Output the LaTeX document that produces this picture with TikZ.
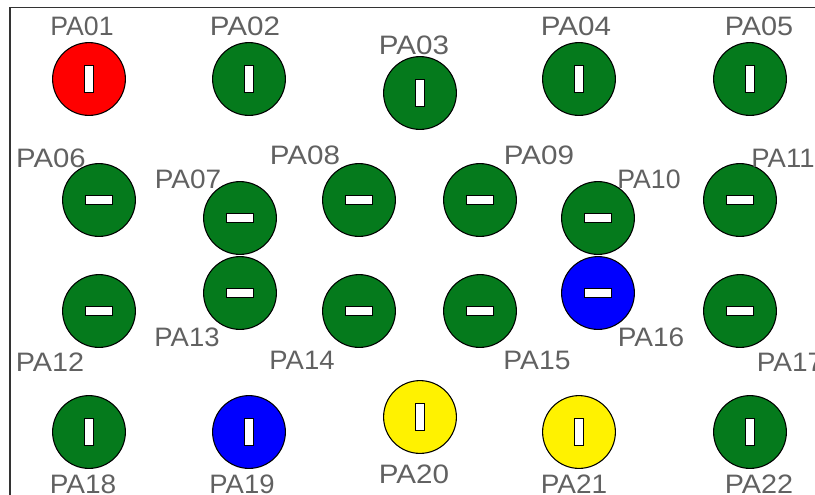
\documentclass[tikz,border=0pt]{standalone}
\usepackage{graphicx}
\usepackage{fontspec}
\setmainfont{Liberation Sans}
\definecolor{pgreen}{RGB}{5,122,28}
\begin{document}
\begin{tikzpicture}[x=0.75pt,y=-0.75pt,
  pad/.style={circle,draw=black,line width=0.8pt,minimum size=54.6pt,inner sep=0pt,outer sep=0pt},
  vslot/.style={rectangle,draw=black,fill=white,line width=0.7pt,minimum width=6.2pt,minimum height=20.5pt,inner sep=0pt},
  hslot/.style={rectangle,draw=black,fill=white,line width=0.7pt,minimum width=20.5pt,minimum height=6.2pt,inner sep=0pt},
  lab/.style={inner sep=0pt,text=black!62,font=\fontsize{20pt}{22pt}\selectfont}]
\useasboundingbox (0,0) rectangle (815,494);
\clip (0,0) rectangle (815,494);
\draw[line width=0.8pt,black!80] (10,495) -- (10,7.5) -- (816,7.5);
\foreach \n/\x/\y/\c/\s/\lx/\ly/\w in {
 01/89/79/red/vslot/82/26/1.0, 02/249/79/pgreen/vslot/245/26/1.11, 03/420/93/pgreen/vslot/414/45/1.11,
 04/579/79/pgreen/vslot/576/26/1.11, 05/750/79/pgreen/vslot/759/26/1.08,
 06/99/200/pgreen/hslot/51/158/1.1, 07/240/218/pgreen/hslot/188/179/1.05, 08/359/200/pgreen/hslot/305/155/1.11,
 09/480/200/pgreen/hslot/539/155/1.11, 10/598/218/pgreen/hslot/649/179/1.0, 11/740/200/pgreen/hslot/783/158/1.03,
 12/99/311/pgreen/hslot/50/362/1.08, 13/240/293/pgreen/hslot/187/337/1.03, 14/359/311/pgreen/hslot/302/360/1.03,
 15/480/311/pgreen/hslot/537/360/1.06, 16/598/293/blue/hslot/651/337/1.05, 17/740/311/pgreen/hslot/790/362/1.05,
 18/89/432/pgreen/vslot/83/484/1.05, 19/249/432/blue/vslot/242/484/1.03, 20/420/417/yellow/vslot/414/474/1.11,
 21/579/432/yellow/vslot/574/484/1.05, 22/750/432/pgreen/vslot/759/484/1.08}{
  \node[pad,fill=\c] (p\n) at (\x,\y) {};
  \node[\s] (s\n) at (p\n.center) {};
  \node[lab] (l\n) at (\lx,\ly) {\scalebox{\w}[1]{PA\n}};
}
\end{tikzpicture}
\end{document}
